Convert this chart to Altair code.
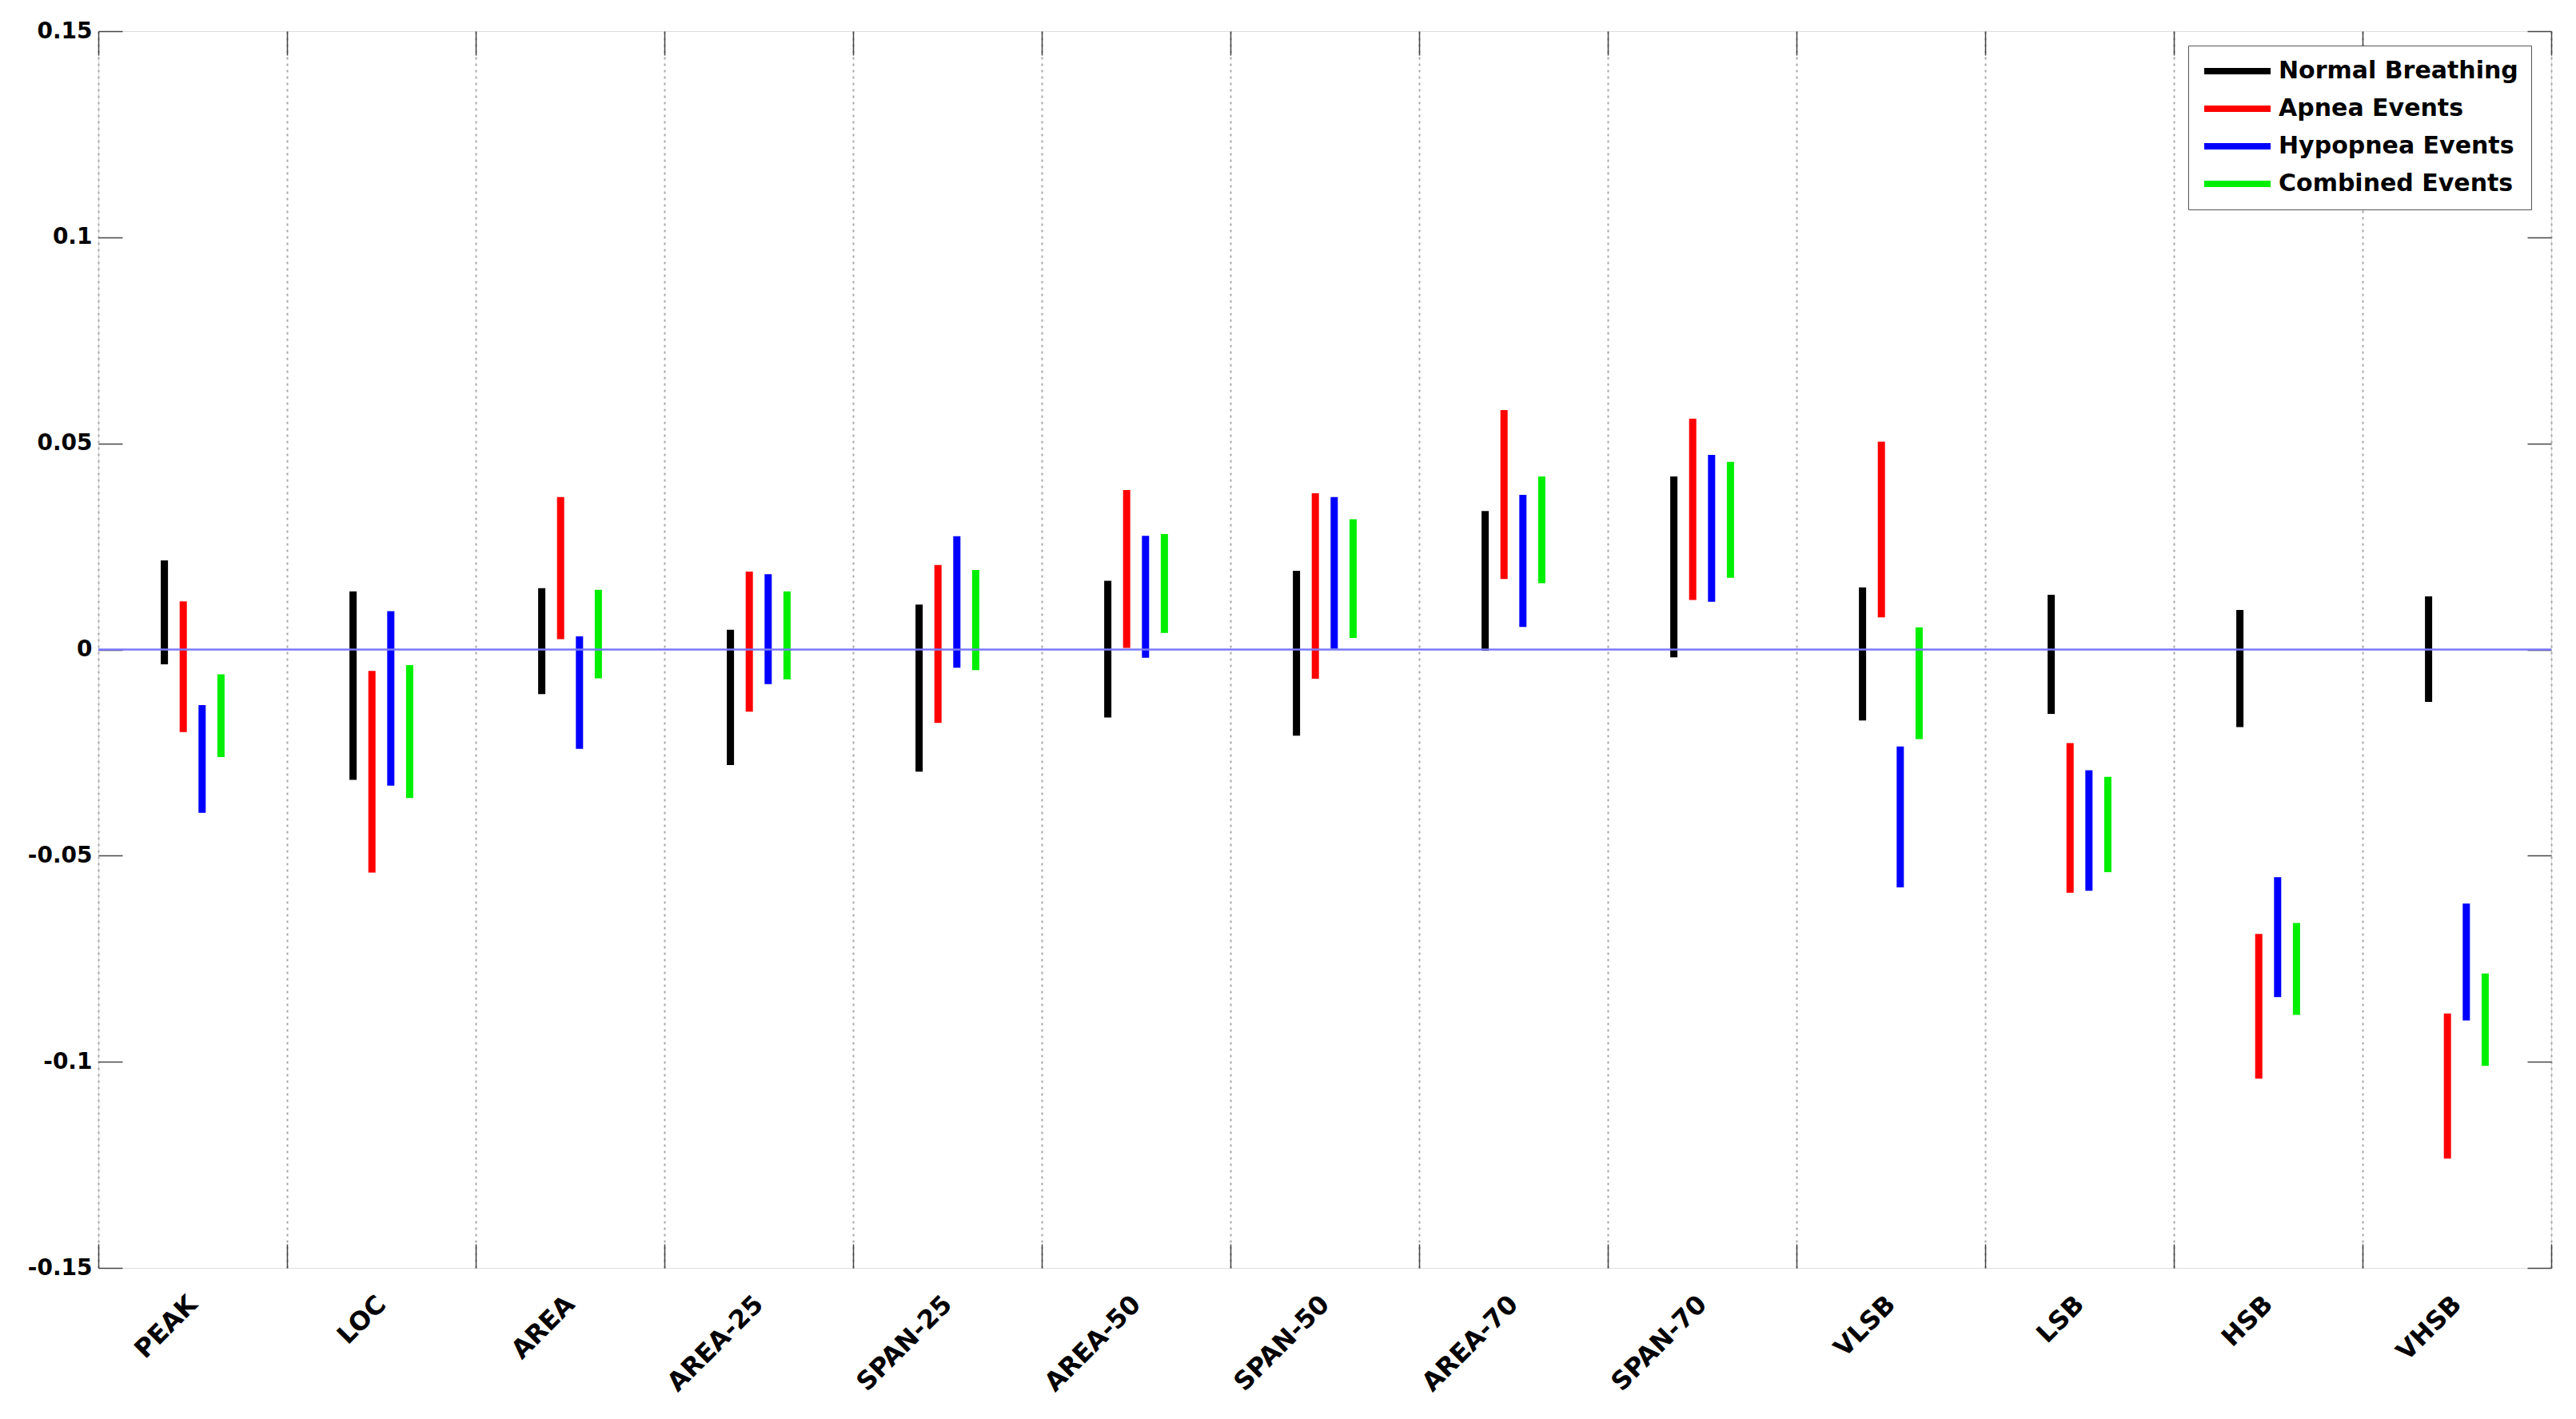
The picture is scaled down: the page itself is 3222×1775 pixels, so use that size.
import altair as alt
import pandas as pd

categories = ["PEAK", "LOC", "AREA", "AREA-25", "SPAN-25", "AREA-50", "SPAN-50",
              "AREA-70", "SPAN-70", "VLSB", "LSB", "HSB", "VHSB"]
series = ["Normal Breathing", "Apnea Events", "Hypopnea Events", "Combined Events"]
colors = ["#000000", "#ff0000", "#0000ff", "#00ee00"]

normal_low = [-0.0036, -0.0316, -0.0108, -0.0280, -0.0296, -0.0165, -0.0209, -0.0003, -0.0019, -0.0172, -0.0156, -0.0188, -0.0127]
normal_high = [0.0216, 0.0141, 0.0149, 0.0048, 0.0109, 0.0167, 0.0191, 0.0336, 0.0420, 0.0151, 0.0133, 0.0096, 0.0129]
apnea_low = [-0.0200, -0.0541, 0.0025, -0.0151, -0.0178, 0.0004, -0.0071, 0.0171, 0.0120, 0.0078, -0.0590, -0.1041, -0.1235]
apnea_high = [0.0117, -0.0052, 0.0370, 0.0189, 0.0205, 0.0387, 0.0379, 0.0581, 0.0560, 0.0504, -0.0227, -0.0690, -0.0883]
hypopnea_low = [-0.0396, -0.0330, -0.0241, -0.0084, -0.0044, -0.0020, 0.0002, 0.0055, 0.0116, -0.0577, -0.0585, -0.0843, -0.0900]
hypopnea_high = [-0.0135, 0.0093, 0.0032, 0.0183, 0.0275, 0.0276, 0.0370, 0.0375, 0.0472, -0.0235, -0.0293, -0.0552, -0.0616]
combined_low = [-0.0261, -0.0360, -0.0070, -0.0072, -0.0050, 0.0040, 0.0028, 0.0161, 0.0174, -0.0217, -0.0540, -0.0886, -0.1010]
combined_high = [-0.0060, -0.0038, 0.0145, 0.0141, 0.0193, 0.0280, 0.0316, 0.0420, 0.0455, 0.0054, -0.0309, -0.0663, -0.0786]

y_ticks = [-0.15, -0.1, -0.05, 0, 0.05, 0.1, 0.15]

lows = [normal_low, apnea_low, hypopnea_low, combined_low]
highs = [normal_high, apnea_high, hypopnea_high, combined_high]
rows = []
for s, lo, hi in zip(series, lows, highs):
    for c, a, b in zip(categories, lo, hi):
        rows.append({"category": c, "series": s, "low": a, "high": b})
df = pd.DataFrame(rows)
zero_df = pd.DataFrame({"low": [0.0]})

FONT = "DejaVu Sans"
W, H = 3068, 1547
BAND = W / len(categories)

xscale = alt.Scale(paddingInner=0, paddingOuter=0)
yscale = alt.Scale(domain=[-0.15, 0.15], nice=False, zero=False)

label_expr = "(datum.value < 0 ? '-' : '') + format(abs(datum.value), '~g')"

main = alt.Chart(df).mark_rule(strokeWidth=9, strokeCap="butt").encode(
    x=alt.X("category:N", sort=categories, scale=xscale, title=None,
            axis=alt.Axis(orient="bottom", labelAngle=-45, labelAlign="right",
                          labelBaseline="middle", labelPadding=40, ticks=False,
                          domain=False, grid=True, tickBand="extent",
                          gridDash=[3, 5], gridColor="#a8a8a8", gridWidth=2,
                          labelFont=FONT, labelFontSize=32, labelFontWeight="bold",
                          labelColor="black", labelLimit=400)),
    xOffset=alt.XOffset("series:N", sort=series,
                        scale=alt.Scale(range=[0.3 * BAND, 0.7 * BAND],
                                        paddingInner=0, paddingOuter=0)),
    y=alt.Y("low:Q", scale=yscale, title=None,
            axis=alt.Axis(orient="left", values=y_ticks, labelExpr=label_expr,
                          ticks=False, domain=False, grid=False, labelPadding=8,
                          labelFont=FONT, labelFontSize=28, labelFontWeight="bold",
                          labelColor="black")),
    y2="high:Q",
    color=alt.Color("series:N", sort=series,
                    scale=alt.Scale(domain=series, range=colors),
                    legend=alt.Legend(title=None, orient="none", legendX=2614, legendY=18,
                                      symbolType="stroke", symbolSize=6889,
                                      symbolStrokeWidth=8, clipHeight=32, rowPadding=15,
                                      labelFont=FONT, labelFontSize=30,
                                      labelFontWeight="bold", labelColor="black",
                                      labelOffset=6, labelLimit=600, padding=16,
                                      strokeColor="#555555", fillColor="white",
                                      symbolOpacity=1)),
)

tick_axis_common = dict(labels=False, domain=False, grid=False, ticks=True,
                        tickSize=30, offset=-30, tickColor="#444444", tickWidth=1.5,
                        title=None)

ticks_tr = alt.Chart(df).mark_rule(opacity=0).encode(
    x=alt.X("category:N", sort=categories, scale=xscale,
            axis=alt.Axis(orient="top", tickBand="extent", **tick_axis_common)),
    y=alt.Y("low:Q", scale=yscale,
            axis=alt.Axis(orient="right", values=y_ticks, **tick_axis_common)),
)

ticks_bl = alt.Chart(df).mark_rule(opacity=0).encode(
    x=alt.X("category:N", sort=categories, scale=xscale,
            axis=alt.Axis(orient="bottom", tickBand="extent", **tick_axis_common)),
    y=alt.Y("low:Q", scale=yscale,
            axis=alt.Axis(orient="left", values=y_ticks, **tick_axis_common)),
)

zero = alt.Chart(zero_df).mark_rule(color="#7878ff", strokeWidth=2.5).encode(
    y=alt.Y("low:Q", scale=yscale, axis=None)
)

chart = alt.layer(main, ticks_tr, ticks_bl, zero).resolve_axis(
    x="independent", y="independent"
).properties(
    width=W, height=H,
    autosize=alt.AutoSizeParams(type="none"),
    padding={"left": 115, "top": 31, "right": 20, "bottom": 180},
).configure_view(stroke="#9a9a9a", strokeWidth=4).configure(background="white")

chart.save("out.html", embed_options={"renderer": "svg", "actions": False})
